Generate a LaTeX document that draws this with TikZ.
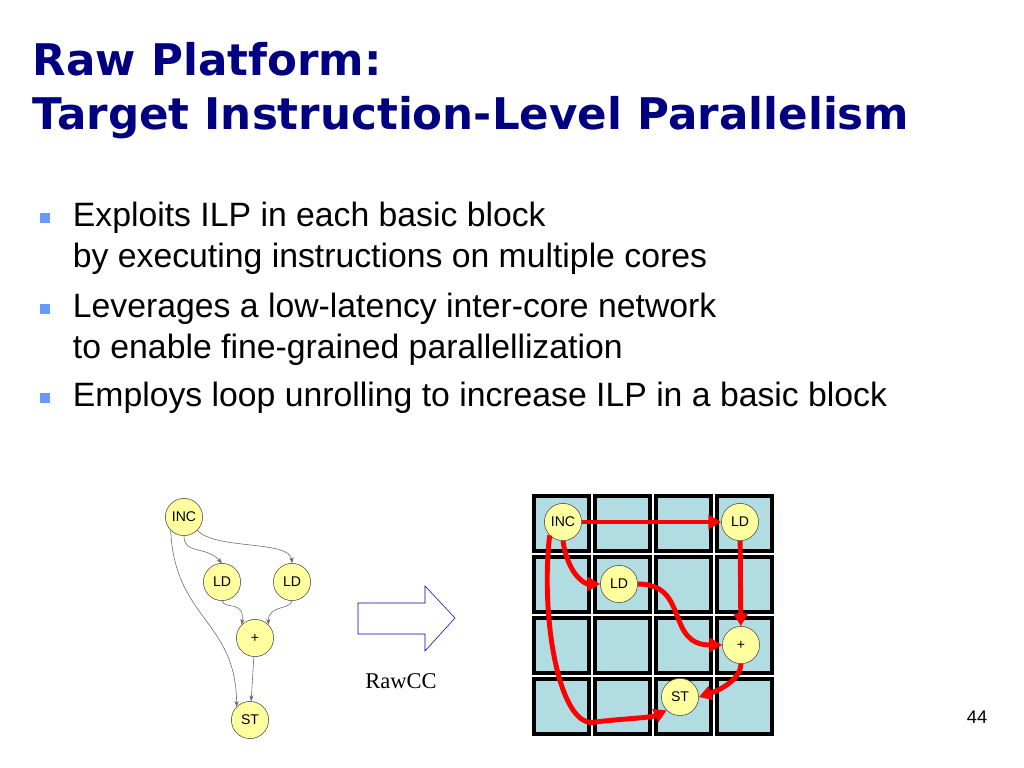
\documentclass[tikz,border=0pt]{standalone}
\usepackage{fontspec}
\setmainfont{Liberation Sans}
\newfontfamily\serifrm{Liberation Serif}
\newfontfamily\titlefont{DejaVu Sans}
\usetikzlibrary{arrows.meta}
\usetikzlibrary{positioning}
\definecolor{navy}{RGB}{0,0,128}
\definecolor{bulletblue}{RGB}{102,153,255}
\definecolor{tilefill}{RGB}{176,220,226}
\definecolor{opfill}{RGB}{255,255,160}
\tikzset{
  x = 0.025cm,
  y = -0.025cm,
  op/.style = {circle, draw=black!70, fill=opfill, minimum size=0.93cm,
    inner sep=0pt, font=\fontsize{10}{10}\selectfont},
  dep/.style = {draw=black!60, thin, -{Stealth[length=4pt]}},
  route/.style = {draw=red, line width=3.5pt, -{Triangle[length=9pt, width=10pt]}},
  tile/.style = {draw=black, line width=2.5pt, fill=tilefill},
  bullet/.style = {fill=bulletblue, minimum size=0.27cm, inner sep=0pt},
  item/.style = {anchor=west, align=left, font=\fontsize{24}{29}\selectfont},
}
\begin{document}
\begin{tikzpicture}
    \useasboundingbox (0,0) rectangle (1024,768);
    % title
    \node [anchor=west, text=navy, align=left, font=\titlefont\fontsize{31}{38.5}\selectfont\bfseries]
      (title) at (28,91) {Raw Platform:\\Target Instruction-Level Parallelism};
    % bullets
    \node [bullet] (b1) at (45,218) {};
    \node [bullet] (b2) at (45,309) {};
    \node [bullet] (b3) at (45,398) {};
    \node [item] (t1) at (68,238) {Exploits ILP in each basic block\\by executing instructions on multiple cores};
    \node [item] (t2) at (68,329) {Leverages a low-latency inter-core network\\to enable fine-grained parallellization};
    \node [item] (t3) at (68,398) {Employs loop unrolling to increase ILP in a basic block};
    % dataflow graph
    \node [op] (inc) at (184,517) {INC};
    \node [op] (lda) at (222,582) {LD};
    \node [op] (ldb) at (292,582) {LD};
    \node [op] (add) at (255,638) {+};
    \node [op] (st) at (250,720) {ST};
    \draw [dep] (inc.south) .. controls (184,555) and (205,545) .. (lda.north);
    \draw [dep] (inc.south east) .. controls (215,550) and (290,540) .. (ldb.north);
    \draw [dep] (lda.south) .. controls (225,610) and (245,600) .. (add.north west);
    \draw [dep] (ldb.south) .. controls (290,610) and (268,605) .. (add.north east);
    \draw [dep] (add) -- (st);
    \draw [dep] (inc.south west) .. controls (175,620) and (236,620) .. (st.north west);
    % hollow arrow
    \draw [blue!70!black] (358,603) -- (425,603) -- (425,586) -- (455,618) -- (425,651)
      -- (425,634) -- (358,634) -- cycle;
    \node [font=\serifrm\fontsize{16}{16}\selectfont] (rawcc) at (401,681) {RawCC};
    % tile grid
    \foreach \i in {0,...,3} {
      \foreach \j in {0,...,3} {
        \draw [tile] (534+61*\i,496+61*\j) rectangle (589+61*\i,551+61*\j);
      }
    }
    \node [op] (tinc) at (563,522) {INC};
    \node [op] (tlda) at (740,522) {LD};
    \node [op] (tldb) at (619,584) {LD};
    \node [op] (tadd) at (741,645) {+};
    \node [op] (tst) at (680,697) {ST};
    \draw [route] (tinc) -- (tlda);
    \draw [route] (tinc.south) .. controls (568,575) and (585,584) .. (tldb.west);
    \draw [route] (tldb.east) .. controls (690,584) and (665,645) .. (tadd.west);
    \draw [route] (tlda) -- (tadd);
    \draw [route] (tadd.south) .. controls (740,680) and (720,690) .. (tst.east);
    \draw [route] (tinc.south west) .. controls (540,620) and (560,730) .. (595,722)
      .. controls (630,718) and (650,718) .. (tst.south west);
    % page number
    \node [font=\fontsize{13}{13}\selectfont] (page) at (977,717) {44};
\end{tikzpicture}
\end{document}
